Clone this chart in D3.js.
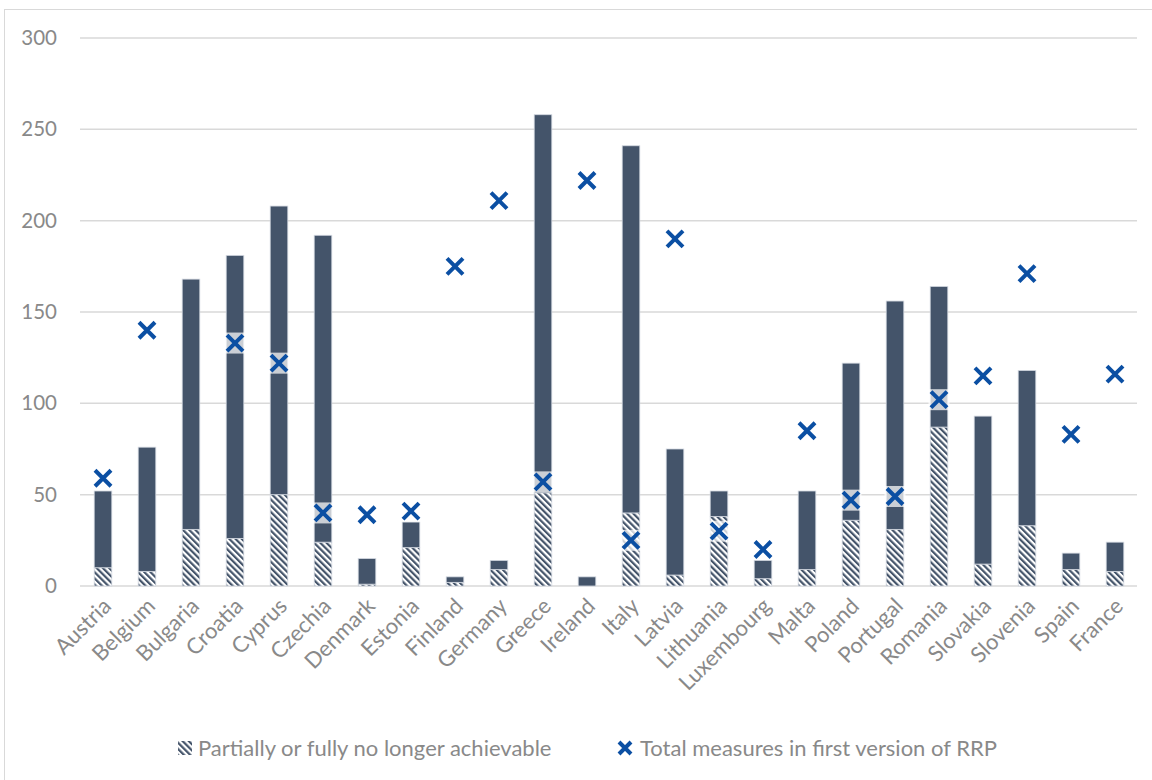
<!DOCTYPE html>
<html>
<head>
<meta charset="utf-8">
<script src="https://cdn.jsdelivr.net/npm/d3@7/dist/d3.min.js"></script>
<style>
html, body { margin: 0; padding: 0; background: #fff; }
svg { display: block; }
</style>
</head>
<body>
<svg id="chart" width="1152" height="780"></svg>
<script>
const countries = ["Austria","Belgium","Bulgaria","Croatia","Cyprus","Czechia","Denmark","Estonia","Finland","Germany","Greece","Ireland","Italy","Latvia","Lithuania","Luxembourg","Malta","Poland","Portugal","Romania","Slovakia","Slovenia","Spain","France"];
// hatched bottom segment
const noLongerAchievable = [10, 8, 31, 26, 50, 24, 1, 21, 2, 9, 51, 0, 40, 6, 38, 4, 9, 36, 31, 87, 12, 33, 9, 8];
// solid top segment
const remaining = [42, 68, 137, 155, 158, 168, 14, 14, 3, 5, 207, 5, 201, 69, 14, 10, 43, 86, 125, 77, 81, 85, 9, 16];
// X markers
const totalFirstRRP = [59, 140, null, 133, 122, 40, 39, 41, 175, 211, 57, 222, 25, 190, 30, 20, 85, 47, 49, 102, 115, 171, 83, 116];
const yTicks = [0, 50, 100, 150, 200, 250, 300];
const legendLabels = ["Partially or fully no longer achievable", "Total measures in first version of RRP"];

const FONT = "Lato, 'Open Sans', 'DejaVu Sans', sans-serif";
const BAR = "#44546a";
const MARK = "#0b4fa3";
const TXT = "#898989";

const svg = d3.select("#chart");
const defs = svg.append("defs");
const pat = defs.append("pattern")
  .attr("id", "hatch")
  .attr("patternUnits", "userSpaceOnUse")
  .attr("width", 4.4).attr("height", 4.4)
  .attr("patternTransform", "rotate(-45)");
pat.append("rect").attr("width", 4.4).attr("height", 4.4).attr("fill", "#fff");
pat.append("rect").attr("width", 2.2).attr("height", 4.4).attr("fill", BAR);

// chart border
svg.append("rect").attr("x", 4.5).attr("y", 9.5).attr("width", 1200).attr("height", 800)
  .attr("fill", "none").attr("stroke", "#d9d9d9").attr("stroke-width", 1);

const x = d3.scaleBand().domain(countries).range([81, 1137]).paddingInner(0.6).paddingOuter(0.3);
const y = d3.scaleLinear().domain([0, 300]).range([586, 38]);

// gridlines
svg.append("g").selectAll("line").data(yTicks).join("line")
  .attr("x1", 80).attr("x2", 1137)
  .attr("y1", d => y(d)).attr("y2", d => y(d))
  .attr("stroke", "#d9d9d9").attr("stroke-width", 1.5);

// y axis labels
const yAxis = d3.axisLeft(y).tickValues(yTicks).tickSize(0).tickPadding(0);
const ya = svg.append("g").attr("transform", "translate(57,0)").call(yAxis);
ya.select(".domain").remove();
ya.selectAll("text").attr("font-family", FONT).attr("font-size", 20.5).attr("fill", TXT);

// stacked bars
const rows = countries.map((c, i) => ({c, a: noLongerAchievable[i], b: remaining[i]}));
const stack = d3.stack().keys(["a", "b"])(rows);
const g = svg.append("g");
stack.forEach((layer, li) => {
  g.append("g").selectAll("rect").data(layer).join("rect")
    .attr("x", d => x(d.data.c))
    .attr("width", x.bandwidth())
    .attr("y", d => y(d[1]))
    .attr("height", d => Math.max(0, y(d[0]) - y(d[1])))
    .attr("fill", li === 0 ? "url(#hatch)" : BAR)
    .attr("stroke", "#d3d8e0").attr("stroke-width", 0.8);
});

// markers
const mk = svg.append("g").selectAll("g")
  .data(countries.map((c, i) => ({c, v: totalFirstRRP[i]})).filter(d => d.v != null))
  .join("g")
  .attr("transform", d => `translate(${x(d.c) + x.bandwidth() / 2},${y(d.v)})`);
mk.append("rect").attr("x", -10.5).attr("y", -10.5).attr("width", 21).attr("height", 21)
  .attr("fill", "#fff").attr("fill-opacity", 0.72);
mk.append("path").attr("d", "M-8,-8L8,8M8,-8L-8,8")
  .attr("stroke", MARK).attr("stroke-width", 4).attr("fill", "none");

// x axis labels
const xAxis = d3.axisBottom(x).tickSize(0).tickPadding(0);
const xa = svg.append("g").attr("transform", "translate(0,586)").call(xAxis);
xa.select(".domain").remove();
xa.selectAll("text")
  .attr("font-family", FONT).attr("font-size", 22).attr("fill", TXT)
  .attr("text-anchor", "end")
  .attr("dy", "0.35em")
  .attr("transform", "translate(4,16) rotate(-45)");

// legend
const lg = svg.append("g").attr("font-family", FONT).attr("font-size", 22).attr("fill", TXT);
lg.append("rect").attr("x", 178).attr("y", 741).attr("width", 14).attr("height", 14).attr("fill", "url(#hatch)");
lg.append("text").attr("x", 198).attr("y", 748).attr("dy", "0.35em").text(legendLabels[0]);
lg.append("path").attr("d", "M619,742L631,754M631,742L619,754")
  .attr("stroke", MARK).attr("stroke-width", 4);
lg.append("text").attr("x", 640).attr("y", 748).attr("dy", "0.35em").text(legendLabels[1]);
</script>
</body>
</html>
